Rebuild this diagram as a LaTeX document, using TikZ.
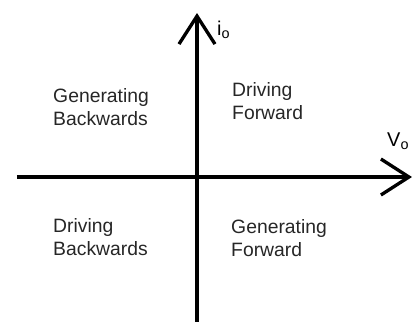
\documentclass[tikz,border=0pt]{standalone}
\usepackage{fontspec}
\setmainfont{Liberation Sans}
\usetikzlibrary{arrows.meta, positioning}

\newcommand{\axsub}[1]{{\fontsize{12.3}{12}\selectfont\raisebox{-3pt}{#1}}}

\tikzset{
    axis/.style={line width=0.1cm, -{Straight Barb[length=0.84cm, width=1.08cm]}},
    quadrant/.style={anchor=north west, inner sep=0pt, align=left, text=black!85,
        font=\fontsize{16.5}{19.6}\selectfont},
    axislabel/.style={anchor=base west, inner sep=0pt, font=\fontsize{17}{18}\selectfont}
}

\begin{document}
\begin{tikzpicture}
    \useasboundingbox (-5.91, -4.35) rectangle (6.69, 5.31);

    % Axis end points
    \coordinate (west) at (-5.4, 0);
    \coordinate (east) at (6.45, 0);
    \coordinate (south) at (0, -4.35);
    \coordinate (north) at (0, 4.92);

    % Axes
    \draw[axis] (west) -- (east);
    \draw[axis] (south) -- (north);

    % Axis labels
    \node[axislabel] (vlabel) at (5.7, 0.93) {V\axsub{o}};
    \node[axislabel] (ilabel) at (0.6, 4.26) {i\axsub{o}};

    % Quadrant labels
    \node[quadrant] (genback) at (-4.32, 2.67) {Generating\\Backwards};
    \node[quadrant] (drivefwd) at (1.05, 2.85) {Driving\\Forward};
    \node[quadrant] (driveback) at (-4.32, -1.23) {Driving\\Backwards};
    \node[quadrant] (genfwd) at (1.02, -1.26) {Generating\\Forward};
\end{tikzpicture}
\end{document}
